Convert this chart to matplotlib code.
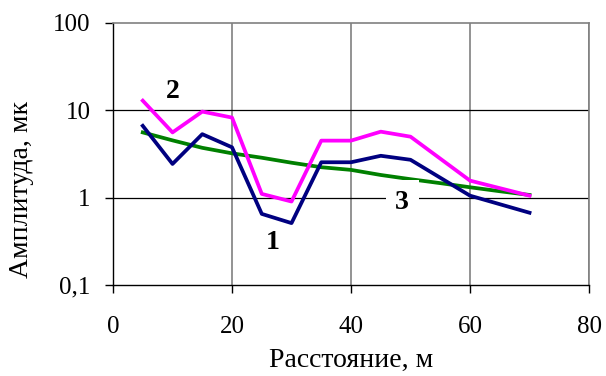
import matplotlib.pyplot as plt
from matplotlib.ticker import FixedLocator, FixedFormatter, NullLocator

# ── data ──────────────────────────────────────────────────────────────────────
dist_12 = [5, 10, 15, 20, 25, 30, 35, 40, 45, 50, 60, 70]
amp_1 = [6.6, 2.42, 5.3, 3.75, 0.65, 0.51, 2.53, 2.53, 3.0, 2.7, 1.05, 0.67]
amp_2 = [12.8, 5.55, 9.6, 8.2, 1.1, 0.9, 4.47, 4.47, 5.66, 4.96, 1.56, 1.05]

dist_3 = [5, 10, 15, 20, 25, 30, 35, 40, 45, 50, 55, 60, 65, 70]
amp_3 = [5.55, 4.5, 3.7, 3.2, 2.85, 2.5, 2.22, 2.07, 1.81, 1.62, 1.46, 1.31, 1.18, 1.07]

x_ticks = [0, 20, 40, 60, 80]
y_ticks = [0.1, 1, 10, 100]
y_labels = ["0,1", "1", "10", "100"]

plt.rcParams["font.family"] = ["Liberation Serif", "DejaVu Serif"]

fig = plt.figure(figsize=(6.06, 3.76), dpi=100)
ax = fig.add_axes([0.1865, 0.242, 0.7855, 0.698])

ax.set_yscale("log")
ax.set_xlim(0, 80)
ax.set_ylim(0.1, 100)

# grid: grey verticals, black horizontals
for x in x_ticks[1:]:
    ax.axvline(x, color="#808080", lw=1.2, zorder=1)
for y in y_ticks[1:3]:
    ax.axhline(y, color="black", lw=0.9, zorder=1)

ax.plot(dist_3, amp_3, color="#008000", lw=2.7, zorder=3)
ax.plot(dist_12, amp_2, color="#FF00FF", lw=2.7, zorder=4)
ax.plot(dist_12, amp_1, color="#000080", lw=2.7, zorder=5)

# curve numbers
lbl = dict(fontsize=20, fontweight="bold", ha="center", va="center_baseline", zorder=6)
ax.text(10.1, 17.5, "2", **lbl)
ax.text(26.9, 0.335, "1", **lbl)
ax.text(48.6, 0.96, "3", **lbl,
        bbox=dict(facecolor="white", edgecolor="none", pad=7))

for side in ["top", "right"]:
    ax.spines[side].set_color("#808080")
    ax.spines[side].set_linewidth(1.2)
for side in ["left", "bottom"]:
    ax.spines[side].set_color("black")
    ax.spines[side].set_linewidth(1.0)

ax.xaxis.set_major_locator(FixedLocator(x_ticks))
ax.yaxis.set_major_locator(FixedLocator(y_ticks))
ax.yaxis.set_major_formatter(FixedFormatter(y_labels))
ax.yaxis.set_minor_locator(NullLocator())
ax.tick_params(axis="both", direction="out", length=6, width=1.0, labelsize=18, colors="black")
ax.tick_params(axis="x", pad=16)
ax.tick_params(axis="y", pad=10)

ax.set_xlabel("Расстояние, м", fontsize=20)
ax.set_ylabel("Амплитуда, мк", fontsize=20)
ax.xaxis.set_label_coords(0.5, -0.24)
ax.yaxis.set_label_coords(-0.165, 0.365)

fig.savefig("out.png", dpi=100)
